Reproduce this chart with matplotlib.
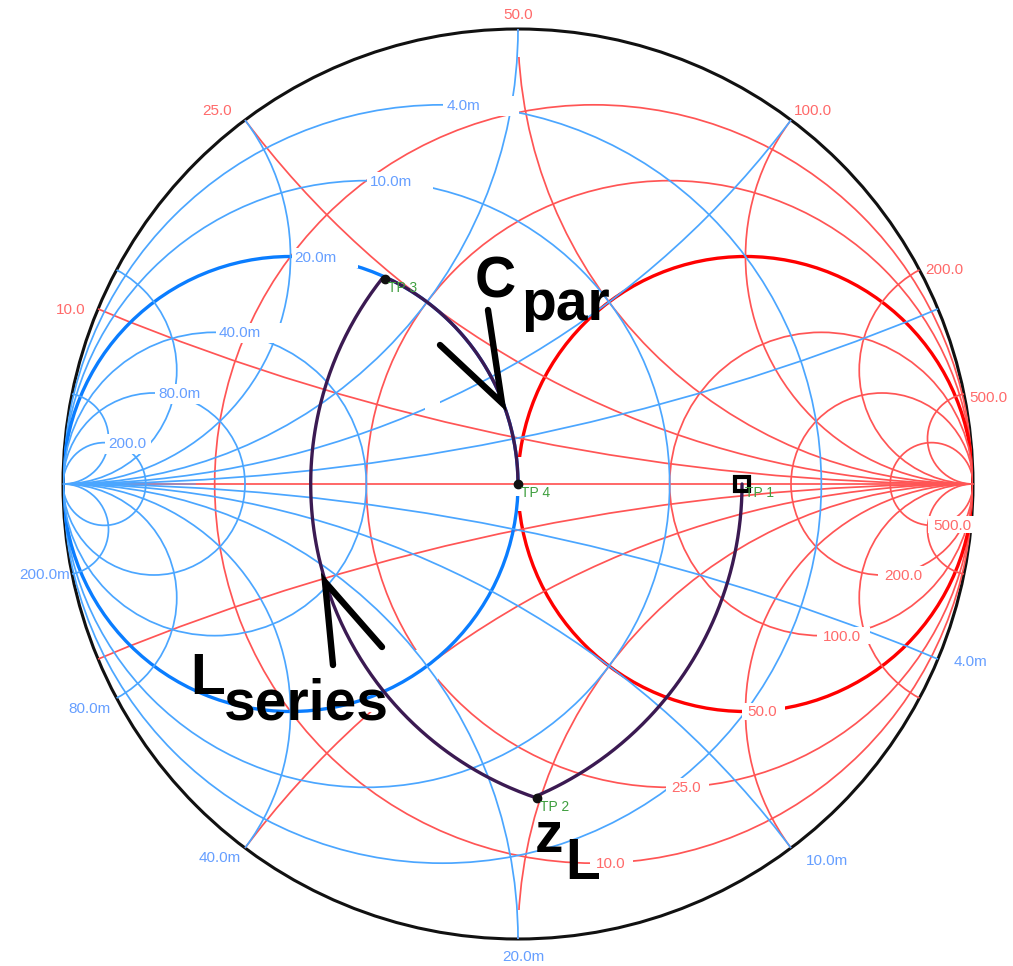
import numpy as np
import matplotlib
matplotlib.use('Agg')
import matplotlib.pyplot as plt
from matplotlib.patches import Circle, Rectangle

# chart values
z0 = 50.0
r_vals = [10.0, 25.0, 50.0, 100.0, 200.0, 500.0]
x_vals = [10.0, 25.0, 50.0, 100.0, 200.0, 500.0]
g_vals = [4.0, 10.0, 20.0, 40.0, 80.0, 200.0]
b_vals = [4.0, 10.0, 20.0, 40.0, 80.0, 200.0]
g_labels = ['4.0m', '10.0m', '20.0m', '40.0m', '80.0m', '200.0']
b_labels = ['4.0m', '10.0m', '20.0m', '40.0m', '80.0m', '200.0m']
tp_names = ['TP 1', 'TP 2', 'TP 3', 'TP 4']
tp_r = [147.0, 18.7, 19.0, 50.0]
tp_x = [0.0, -49.5, 24.0, 0.0]

# picture geometry, in pixels
W, H = 1013, 966
CX, CY, RAD = 518.0, 484.0, 455.0
RED, RED_B = '#ff5555', '#ff0000'
BLUE, BLUE_B = '#4ba6ff', '#0a7dff'
PATH = '#3b1a52'
LAB_RED, LAB_BLUE, LAB_GREEN = '#ff6a6a', '#669fff', '#3f9f3f'
FONT = 'Liberation Sans'
THIN, BOLD = 1.25, 2.4


def px(x, y):
    return (x - CX) / RAD, (CY - y) / RAD


def gamma(z):
    return (z - 1) / (z + 1)


def mask(ax, x0, y0, x1, y1, zorder):
    xa, ya = px(x0, y1)
    ax.add_patch(Rectangle((xa, ya), (x1 - x0) / RAD, (y1 - y0) / RAD,
                           fc='white', ec='none', zorder=zorder))


def circle(ax, c, rad, color, lw, zorder, clip):
    p = Circle(c, rad, fill=False, ec=color, lw=lw, zorder=zorder)
    ax.add_patch(p)
    p.set_clip_path(clip)


def grid_label(ax, gx, gy, s, color, dx, dy, ha='center'):
    ax.annotate(s, (gx, gy), xytext=(dx, dy), textcoords='offset pixels', ha=ha, va='center',
                color=color, fontsize=11, family=FONT, zorder=4.5)


fig = plt.figure(figsize=(W / 100, H / 100), dpi=100)
ax = fig.add_axes([0, 0, 1, 1])
ax.set_xlim(-CX / RAD, (W - CX) / RAD)
ax.set_ylim((CY - H) / RAD, CY / RAD)
ax.axis('off')

rim = Circle((0, 0), 1, fill=False, ec='#111111', lw=2.2, zorder=1)
ax.add_patch(rim)
clip = Circle((0, 0), 1, transform=ax.transData)

# red: resistance circles and reactance arcs
for v in r_vals:
    r = v / z0
    bold = v == z0
    circle(ax, (r / (1 + r), 0), 1 / (1 + r), RED_B if bold else RED, BOLD if bold else THIN, 2, clip)
for v in x_vals:
    x = v / z0
    for s in (1, -1):
        circle(ax, (1, s / x), 1 / x, RED, THIN, 2, clip)

# places where the original has the red layer blanked
mask(ax, 510, 32, 526, 57, 2.5)
mask(ax, 510, 910, 526, 936, 2.5)
mask(ax, 511, 457, 525, 511, 2.5)
mask(ax, 367, 650, 438, 712, 2.5)
xa, ya = px(97, CY)
ax.plot([xa, 1], [0, 0], color=RED, lw=THIN, zorder=2.6)

# blue: conductance circles and susceptance arcs
for v in g_vals:
    g = v * 1e-3 * z0
    bold = v == 20.0
    circle(ax, (-g / (1 + g), 0), 1 / (1 + g), BLUE_B if bold else BLUE, BOLD if bold else THIN, 3, clip)
for v in b_vals:
    b = v * 1e-3 * z0
    for s in (1, -1):
        circle(ax, (-1, s / b), 1 / b, BLUE, THIN, 3, clip)
xa, ya = px(195, CY)
ax.plot([-1, xa], [0, 0], color=BLUE, lw=THIN, alpha=0.55, zorder=3)
mask(ax, 425, 396, 440, 412, 3.5)
mask(ax, 511, 486, 525, 496, 3.5)

# resistance labels sit on the bottom of their circles
for v in r_vals:
    r = v / z0
    gx, gy = r / (1 + r), -1 / (1 + r)
    x0 = CX + gx * RAD
    y0 = CY - gy * RAD
    w = 30 if v < 100 else 40
    mask(ax, x0 - 4, y0 - 9, x0 + w + 9, y0 + 8, 4)
    grid_label(ax, gx, gy, '%.1f' % v, LAB_RED, 2, -1, ha='left')

# conductance labels sit on the top of theirs
g_mask_w = [76, 66, 66, 66, 60, 46]
for v, s, w in zip(g_vals, g_labels, g_mask_w):
    g = v * 1e-3 * z0
    gx, gy = -g / (1 + g), 1 / (1 + g)
    x0 = CX + gx * RAD
    y0 = CY - gy * RAD
    mask(ax, x0 + 1, y0 - 9, x0 + 1 + w, y0 + 11, 4)
    grid_label(ax, gx, gy, s, LAB_BLUE, 4, -1, ha='left')

# rim labels
x_off = [(-27, -1), (-28, 9), (0, 14), (22, 9), (25, 0), (24, -4)]
for v, (dx, dy) in zip(x_vals, x_off):
    g0 = gamma(1j * v / z0)
    grid_label(ax, g0.real, g0.imag, '%.1f' % v, LAB_RED, dx, dy)
b_off = [(32, -3), (36, -13), (5, -18), (-25, -10), (-27, -11), (-27, -1)]
for v, s, (dx, dy) in zip(b_vals, b_labels, b_off):
    g0 = gamma(1 / (1j * v * 1e-3 * z0))
    grid_label(ax, g0.real, g0.imag, s, LAB_BLUE, dx, dy)

# matching path
tp = [complex(a, b) / z0 for a, b in zip(tp_r, tp_x)]
y1, y2 = 1 / tp[0], 1 / tp[1]
leg1 = 1 / (y1.real + 1j * np.linspace(y1.imag, y2.imag, 200))
leg2 = tp[1].real + 1j * np.linspace(tp[1].imag, tp[2].imag, 200)
y3 = 1 / tp[2]
leg3 = 1 / (1.0 + 1j * np.linspace(y3.imag, 0, 200))
for leg in (leg1, leg2, leg3):
    g0 = gamma(leg)
    ax.plot(g0.real, g0.imag, color=PATH, lw=2.4, zorder=5, solid_capstyle='round')

tp_g = [gamma(z) for z in tp]
ax.plot(tp_g[0].real, tp_g[0].imag, 's', ms=10, mfc='none', mec='black', mew=3, zorder=6)
for g0 in tp_g[1:]:
    ax.plot(g0.real, g0.imag, 'o', ms=6, color='#111111', zorder=6)
for s, g0 in zip(tp_names, tp_g):
    ax.annotate(s, (g0.real, g0.imag), xytext=(3, -9), textcoords='offset pixels', ha='left', va='center',
                color=LAB_GREEN, fontsize=10, family=FONT, zorder=6)

# hand drawn notes
big = dict(color='black', family=FONT, weight='bold', fontsize=41, zorder=7, va='baseline', ha='left')
for x, y, s in [(475, 297, 'C'), (521, 320, 'par'), (190, 694, 'L'), (224, 720, 'series'),
                (535, 852, 'z'), (565, 879, 'L')]:
    gx, gy = px(x, y)
    ax.text(gx, gy, s, **big)
arrows = [[(488, 310), (502, 403), (440, 345)], [(333, 665), (325, 582), (382, 647)]]
for a in arrows:
    pts = np.array([px(x, y) for x, y in a])
    ax.plot(pts[:, 0], pts[:, 1], color='black', lw=4.6, zorder=7, solid_capstyle='round', solid_joinstyle='miter')

fig.savefig('out.png', dpi=100)
